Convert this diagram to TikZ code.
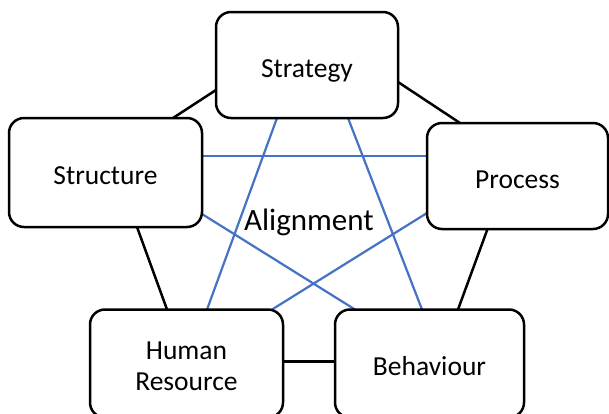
\documentclass[tikz,border=0pt]{standalone}
\usepackage{fontspec}
\setmainfont{Carlito}
\usetikzlibrary{calc,backgrounds}
\definecolor{linkblue}{HTML}{4472C4}
\begin{document}
\begin{tikzpicture}[x=1pt,y=-1pt,
  box/.style={draw=black, line width=2.5pt, rounded corners=15pt, fill=white,
    inner sep=0pt, outer sep=0pt, font=\fontsize{27.5}{31.7}\selectfont, align=center},
  oneline/.style={text height=24.4pt, text depth=0pt},
  frame/.style={black, line width=2.5pt},
  link/.style={linkblue, line width=2.2pt}]
\useasboundingbox (0,0) rectangle (609,413);

% the five boxes
\node[box, oneline, minimum width=182pt, minimum height=106pt] (strategy) at (307,65) {Strategy};
\node[box, oneline, minimum width=193pt, minimum height=109pt] (structure) at (105.5,172.5) {Structure};
\node[box, oneline, minimum width=181pt, minimum height=106pt] (process) at (517.5,176) {Process};
\node[box, text height=54.5pt, text depth=0pt, minimum width=193pt, minimum height=108pt] (human) at (186.5,363.5) {Human\\Resource};
\node[box, oneline, minimum width=189pt, minimum height=108pt] (behaviour) at (429.5,363.5) {Behaviour};

% centre label
\node[font=\fontsize{31}{37}\selectfont, text height=19.6pt, text depth=0pt, inner sep=0pt]
  (alignment) at (309,220.3) {Alignment};

\begin{scope}[on background layer]
\fill[white] (0,0) rectangle (609,413);
% outer ring
\draw[frame] ($(strategy.west)+(0,25)$) -- ($(structure.north)+(67.5,0)$);
\draw[frame] ($(structure.south)+(31.5,0)$) -- ($(human.north)+(-19.5,0)$);
\draw[frame] ($(human.east)+(0,-2)$) -- ($(behaviour.west)+(0,-2)$);
\draw[frame] ($(behaviour.north)+(28.5,0)$) -- ($(process.south)+(-30,0)$);
\draw[frame] ($(process.north)+(-57.5,0)$) -- ($(strategy.east)+(0,17)$);
% inner star
\draw[link] ($(structure.east)+(0,-16.5)$) -- ($(process.west)+(0,-20)$);
\draw[link] ($(structure.east)+(0,41.5)$) -- ($(behaviour.north)+(-74.5,0)$);
\draw[link] ($(process.west)+(0,37)$) -- ($(human.north)+(85.5,0)$);
\draw[link] ($(strategy.south)+(-30,0)$) -- ($(human.north)+(20.5,0)$);
\draw[link] ($(strategy.south)+(41,0)$) -- ($(behaviour.north)+(-7.5,0)$);
\end{scope}
\end{tikzpicture}
\end{document}
